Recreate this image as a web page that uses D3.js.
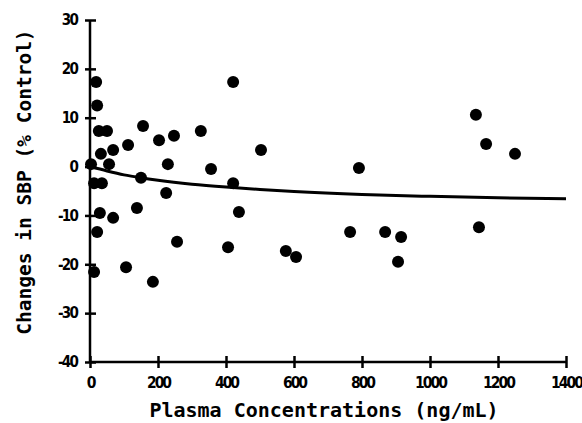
<!DOCTYPE html>
<html>
<head>
<meta charset="utf-8">
<script src="https://cdn.jsdelivr.net/npm/d3@7"></script>
<style>
  body { margin: 0; background: #fff; }
  .tick text { font-family: "DejaVu Sans Condensed", "DejaVu Sans", sans-serif; font-weight: bold; font-size: 15px; letter-spacing: -1.8px; fill: #000; }
  .title { font-family: "DejaVu Sans Mono", "Liberation Mono", monospace; font-weight: bold; fill: #000; }
</style>
</head>
<body>
<div id="chart"></div>
<script>
// plasma concentration (ng/mL) and change in SBP (% control)
var conc = [3, 18, 21, 26, 50, 156, 203, 112, 247, 326, 32, 68, 56, 229, 150, 12, 35, 224, 29, 68, 138, 21,
            256, 12, 106, 185, 421, 503, 356, 421, 438, 406, 576, 606, 791, 765, 868, 915, 906, 1135, 1165, 1250, 1144];
var sbp = [0.5, 17.3, 12.5, 7.3, 7.3, 8.3, 5.4, 4.4, 6.3, 7.3, 2.6, 3.4, 0.5, 0.5, -2.3, -3.4, -3.4, -5.4, -9.5, -10.5, -8.5, -13.4,
           -15.4, -21.6, -20.6, -23.6, 17.3, 3.4, -0.5, -3.4, -9.3, -16.5, -17.3, -18.5, -0.3, -13.4, -13.4, -14.4, -19.5, 10.6, 4.6, 2.6, -12.4];

// fitted curve
var fitX = [0, 50, 100, 150, 200, 300, 400, 500, 600, 800, 1000, 1200, 1400];
var fitY = [0, -0.9, -1.7, -2.3, -2.8, -3.6, -4.2, -4.7, -5.1, -5.7, -6.1, -6.4, -6.6];

var xTicks = [0, 200, 400, 600, 800, 1000, 1200, 1400];
var yTicks = [-40, -30, -20, -10, 0, 10, 20, 30];

var width = 582, height = 423;
var svg = d3.select("#chart")
  .append("svg")
    .attr("width", width)
    .attr("height", height);

var x = d3.scaleLinear().domain([0, 1400]).range([90, 566]);
var y = d3.scaleLinear().domain([-40, 30]).range([362, 20]);

// Y axis
var gy = svg.append("g")
  .attr("transform", "translate(90,0)")
  .call(d3.axisLeft(y).tickValues(yTicks).tickFormat(d => String(d)).tickSize(6).tickPadding(7));
gy.select(".domain").attr("stroke-width", 2.5).attr("d", "M0," + y(30) + "V" + y(-40));
gy.selectAll(".tick line").attr("x1", -5).attr("x2", 6).attr("stroke-width", 2.5);

// X axis
var gx = svg.append("g")
  .attr("transform", "translate(0,362)")
  .call(d3.axisBottom(x).tickValues(xTicks).tickFormat(d => String(d)).tickSize(6).tickPadding(9));
gx.select(".domain").attr("stroke-width", 2.5).attr("d", "M" + x(0) + ",0H" + x(1400));
gx.selectAll(".tick line").attr("y1", -6).attr("y2", 6).attr("stroke-width", 2.5);
gx.selectAll(".tick text").style("font-size", "15.5px").style("letter-spacing", "-2px");

// fit line
var fit = fitX.map((d, i) => [d, fitY[i]]);
svg.append("path")
  .datum(fit)
  .attr("fill", "none")
  .attr("stroke", "#000")
  .attr("stroke-width", 3)
  .attr("d", d3.line().x(d => x(d[0])).y(d => y(d[1])).curve(d3.curveMonotoneX));

// dots
svg.selectAll("circle.pt")
  .data(conc)
  .join("circle")
    .attr("class", "pt")
    .attr("cx", d => x(d))
    .attr("cy", (d, i) => y(sbp[i]))
    .attr("r", 6)
    .attr("fill", "#000");

// titles
svg.append("text")
  .attr("class", "title")
  .attr("x", 324)
  .attr("y", 417)
  .attr("text-anchor", "middle")
  .style("font-size", "20px")
  .text("Plasma Concentrations (ng/mL)");

svg.append("text")
  .attr("class", "title")
  .attr("transform", "translate(31,182) rotate(-90)")
  .attr("text-anchor", "middle")
  .style("font-size", "19.5px")
  .text("Changes in SBP (% Control)");
</script>
</body>
</html>
